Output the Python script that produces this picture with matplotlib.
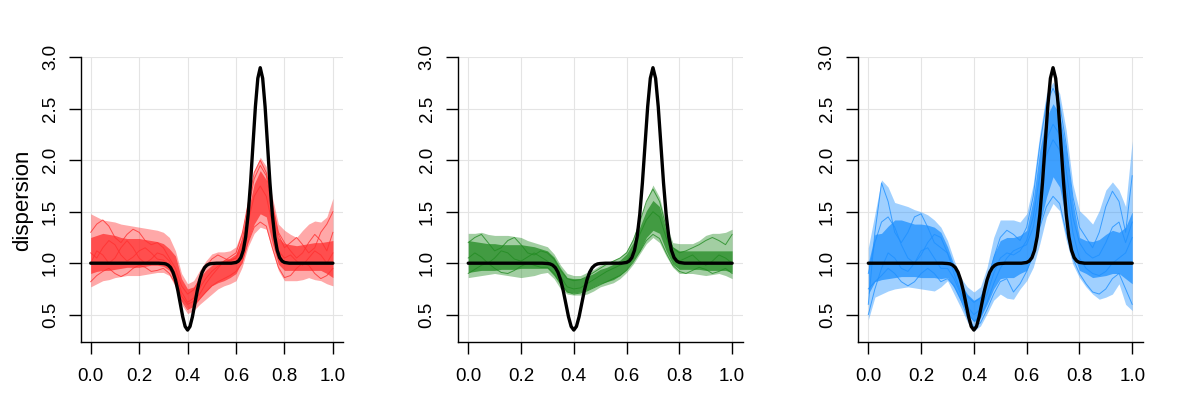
import matplotlib
matplotlib.use("Agg")
import matplotlib.pyplot as plt

plt.rcParams['font.family'] = ['Liberation Sans', 'DejaVu Sans']

# true dispersion curve (black)
true_x = [0.00, 0.28, 0.30, 0.31, 0.32, 0.33, 0.34, 0.35, 0.36, 0.37, 0.38, 0.39, 0.40,
          0.41, 0.42, 0.43, 0.44, 0.45, 0.46, 0.47, 0.48, 0.49, 0.50, 0.52, 0.58,
          0.60, 0.61, 0.62, 0.63, 0.64, 0.65, 0.66, 0.67, 0.68, 0.69, 0.70,
          0.71, 0.72, 0.73, 0.74, 0.75, 0.76, 0.77, 0.78, 0.79, 0.80, 0.82, 1.00]
true_y = [1.0, 1.0, 0.997, 0.993, 0.981, 0.957, 0.912, 0.838, 0.733, 0.606, 0.479, 0.385, 0.35,
          0.385, 0.479, 0.606, 0.733, 0.838, 0.912, 0.957, 0.981, 0.993, 0.997, 1.0, 1.0,
          1.007, 1.021, 1.054, 1.125, 1.257, 1.473, 1.781, 2.153, 2.522, 2.797, 2.9,
          2.797, 2.522, 2.153, 1.781, 1.473, 1.257, 1.125, 1.054, 1.021, 1.007, 1.0, 1.0]

# common grid for the estimated curves
grid_x = [0.000, 0.025, 0.050, 0.075, 0.100, 0.125, 0.150, 0.175, 0.200, 0.225,
          0.250, 0.275, 0.300, 0.325, 0.350, 0.375, 0.400, 0.425, 0.450, 0.475,
          0.500, 0.525, 0.550, 0.575, 0.600, 0.625, 0.650, 0.675, 0.700, 0.725,
          0.750, 0.775, 0.800, 0.825, 0.850, 0.875, 0.900, 0.925, 0.950, 0.975, 1.000]

# panel 1 (red): outer envelope, central band, a few single curves
red_hi = [1.48, 1.45, 1.42, 1.41, 1.40, 1.38, 1.37, 1.36, 1.35, 1.34,
          1.33, 1.32, 1.30, 1.25, 1.12, 0.90, 0.80, 0.83, 0.93, 1.02,
          1.09, 1.11, 1.11, 1.12, 1.16, 1.32, 1.61, 1.90, 2.03, 1.94,
          1.64, 1.38, 1.32, 1.28, 1.25, 1.32, 1.38, 1.41, 1.40, 1.45, 1.63]
red_chi = [1.25, 1.27, 1.29, 1.28, 1.27, 1.25, 1.24, 1.24, 1.24, 1.23,
           1.22, 1.21, 1.19, 1.14, 1.07, 0.85, 0.75, 0.77, 0.86, 0.93,
           0.98, 1.01, 1.03, 1.05, 1.09, 1.24, 1.51, 1.77, 1.90, 1.81,
           1.55, 1.25, 1.19, 1.18, 1.17, 1.18, 1.19, 1.20, 1.20, 1.21, 1.22]
red_clo = [0.90, 0.92, 0.93, 0.93, 0.94, 0.95, 0.96, 0.96, 0.96, 0.97,
           0.98, 0.98, 0.97, 0.93, 0.81, 0.64, 0.56, 0.59, 0.66, 0.72,
           0.78, 0.81, 0.83, 0.86, 0.90, 1.02, 1.22, 1.38, 1.48, 1.45,
           1.19, 0.99, 0.93, 0.93, 0.93, 0.93, 0.93, 0.93, 0.93, 0.90, 0.86]
red_lo = [0.77, 0.80, 0.83, 0.84, 0.86, 0.87, 0.88, 0.88, 0.88, 0.89,
          0.90, 0.91, 0.91, 0.88, 0.77, 0.60, 0.51, 0.54, 0.60, 0.65,
          0.70, 0.75, 0.78, 0.80, 0.83, 0.96, 1.16, 1.29, 1.35, 1.33,
          1.12, 0.93, 0.83, 0.83, 0.83, 0.84, 0.86, 0.84, 0.83, 0.80, 0.78]
red_curves = [
    [1.30, 1.38, 1.42, 1.36, 1.25, 1.20, 1.28, 1.33, 1.30, 1.22,
     1.18, 1.20, 1.15, 1.05, 0.95, 0.78, 0.70, 0.74, 0.85, 0.96,
     1.04, 1.08, 1.05, 1.02, 1.05, 1.22, 1.52, 1.82, 1.95, 1.85,
     1.55, 1.28, 1.15, 1.20, 1.25, 1.18, 1.10, 1.15, 1.30, 1.38, 1.50],
    [0.82, 0.88, 0.92, 0.95, 0.90, 0.87, 0.90, 0.95, 0.98, 0.96,
     0.92, 0.93, 0.95, 0.90, 0.80, 0.64, 0.55, 0.58, 0.65, 0.72,
     0.78, 0.82, 0.85, 0.88, 0.92, 1.00, 1.20, 1.35, 1.40, 1.36,
     1.15, 0.96, 0.86, 0.88, 0.95, 1.00, 0.98, 0.90, 0.85, 0.88, 0.95],
    [1.10, 1.05, 1.15, 1.22, 1.18, 1.08, 1.02, 1.06, 1.12, 1.15,
     1.10, 1.04, 1.03, 0.98, 0.90, 0.72, 0.62, 0.66, 0.76, 0.85,
     0.92, 0.97, 1.00, 1.03, 1.05, 1.15, 1.40, 1.65, 1.75, 1.65,
     1.38, 1.12, 1.05, 1.08, 1.02, 0.98, 1.05, 1.12, 1.08, 1.00, 1.10],
    [1.00, 1.12, 1.08, 1.00, 1.05, 1.15, 1.22, 1.15, 1.05, 1.00,
     1.04, 1.10, 1.08, 1.02, 0.88, 0.68, 0.60, 0.63, 0.70, 0.80,
     0.88, 0.95, 1.02, 1.06, 1.10, 1.28, 1.58, 1.88, 2.00, 1.88,
     1.58, 1.30, 1.20, 1.12, 1.05, 1.10, 1.20, 1.28, 1.22, 1.12, 1.30],
]

# panel 2 (green)
green_hi = [1.29, 1.29, 1.30, 1.28, 1.27, 1.27, 1.27, 1.26, 1.25, 1.22,
            1.20, 1.18, 1.16, 1.09, 0.98, 0.90, 0.88, 0.88, 0.91, 0.94,
            0.98, 1.00, 1.03, 1.06, 1.12, 1.25, 1.42, 1.61, 1.76, 1.64,
            1.38, 1.20, 1.19, 1.19, 1.19, 1.22, 1.27, 1.29, 1.29, 1.30, 1.33]
green_chi = [1.22, 1.21, 1.20, 1.19, 1.19, 1.18, 1.18, 1.18, 1.18, 1.17,
             1.16, 1.14, 1.12, 1.06, 0.95, 0.86, 0.85, 0.85, 0.87, 0.90,
             0.94, 0.96, 0.99, 1.03, 1.09, 1.20, 1.35, 1.51, 1.61, 1.55,
             1.32, 1.16, 1.12, 1.12, 1.12, 1.12, 1.12, 1.12, 1.12, 1.12, 1.12]
green_clo = [0.91, 0.92, 0.93, 0.93, 0.93, 0.94, 0.94, 0.94, 0.95, 0.95,
             0.95, 0.95, 0.95, 0.88, 0.79, 0.72, 0.71, 0.72, 0.74, 0.77,
             0.80, 0.82, 0.84, 0.88, 0.94, 1.03, 1.12, 1.25, 1.32, 1.29,
             1.12, 0.99, 0.94, 0.94, 0.94, 0.94, 0.93, 0.93, 0.93, 0.93, 0.91]
green_lo = [0.86, 0.87, 0.88, 0.89, 0.90, 0.89, 0.88, 0.87, 0.86, 0.87,
            0.88, 0.90, 0.91, 0.85, 0.75, 0.70, 0.69, 0.69, 0.70, 0.73,
            0.77, 0.79, 0.81, 0.85, 0.91, 0.99, 1.09, 1.19, 1.25, 1.20,
            1.07, 0.96, 0.90, 0.90, 0.90, 0.89, 0.88, 0.89, 0.90, 0.88, 0.85]
green_curves = [
    [1.20, 1.25, 1.28, 1.20, 1.12, 1.15, 1.22, 1.25, 1.18, 1.10,
     1.08, 1.12, 1.10, 1.04, 0.93, 0.85, 0.83, 0.84, 0.87, 0.91,
     0.95, 0.99, 1.02, 1.05, 1.10, 1.22, 1.40, 1.60, 1.72, 1.60,
     1.35, 1.15, 1.10, 1.12, 1.15, 1.18, 1.22, 1.25, 1.22, 1.18, 1.28],
    [0.90, 0.94, 0.98, 1.00, 0.95, 0.91, 0.90, 0.93, 0.97, 1.00,
     0.98, 0.96, 0.96, 0.90, 0.80, 0.72, 0.70, 0.71, 0.73, 0.76,
     0.79, 0.82, 0.85, 0.88, 0.93, 1.01, 1.11, 1.22, 1.28, 1.24,
     1.10, 0.98, 0.92, 0.90, 0.93, 0.96, 0.94, 0.90, 0.92, 0.95, 0.90],
    [1.05, 1.10, 1.06, 1.00, 1.05, 1.12, 1.10, 1.04, 1.02, 1.06,
     1.10, 1.06, 1.02, 0.97, 0.87, 0.77, 0.75, 0.76, 0.80, 0.84,
     0.88, 0.92, 0.95, 0.98, 1.02, 1.12, 1.28, 1.42, 1.50, 1.45,
     1.25, 1.08, 1.02, 1.05, 1.08, 1.02, 0.98, 1.02, 1.08, 1.05, 1.00],
]

# panel 3 (blue)
blue_hi = [1.15, 1.48, 1.81, 1.74, 1.59, 1.57, 1.55, 1.52, 1.50, 1.47,
           1.42, 1.35, 1.22, 1.03, 0.86, 0.77, 0.72, 0.77, 0.96, 1.25,
           1.42, 1.42, 1.42, 1.40, 1.48, 1.77, 2.26, 2.65, 2.76, 2.65,
           2.29, 1.77, 1.51, 1.45, 1.38, 1.51, 1.71, 1.79, 1.71, 1.55, 2.19]
blue_chi = [1.00, 1.28, 1.29, 1.36, 1.42, 1.42, 1.40, 1.38, 1.38, 1.37,
            1.35, 1.30, 1.16, 0.98, 0.81, 0.70, 0.64, 0.68, 0.86, 1.08,
            1.22, 1.25, 1.25, 1.27, 1.32, 1.62, 2.10, 2.42, 2.55, 2.45,
            2.10, 1.60, 1.25, 1.22, 1.21, 1.23, 1.28, 1.32, 1.30, 1.35, 1.50]
blue_clo = [0.70, 0.82, 0.84, 0.85, 0.86, 0.87, 0.87, 0.87, 0.86, 0.86,
            0.86, 0.85, 0.86, 0.76, 0.63, 0.51, 0.43, 0.47, 0.60, 0.75,
            0.85, 0.86, 0.86, 0.90, 0.93, 1.08, 1.38, 1.64, 1.84, 1.74,
            1.42, 1.10, 0.93, 0.90, 0.86, 0.87, 0.88, 0.90, 0.90, 0.85, 0.80]
blue_lo = [0.45, 0.67, 0.70, 0.73, 0.75, 0.76, 0.77, 0.76, 0.75, 0.74,
           0.73, 0.77, 0.83, 0.70, 0.57, 0.43, 0.34, 0.39, 0.51, 0.64,
           0.70, 0.66, 0.65, 0.75, 0.83, 0.96, 1.19, 1.45, 1.58, 1.51,
           1.22, 0.99, 0.86, 0.77, 0.70, 0.65, 0.67, 0.70, 0.80, 0.60, 0.54]
blue_curves = [
    [0.60, 1.30, 1.78, 1.60, 1.30, 1.20, 1.30, 1.45, 1.48, 1.35,
     1.20, 1.15, 1.10, 0.95, 0.80, 0.68, 0.62, 0.66, 0.82, 1.05,
     1.25, 1.32, 1.28, 1.22, 1.35, 1.65, 2.15, 2.55, 2.70, 2.55,
     2.15, 1.65, 1.35, 1.25, 1.15, 1.30, 1.55, 1.70, 1.60, 1.30, 1.85],
    [0.75, 0.82, 0.88, 0.95, 0.90, 0.82, 0.78, 0.82, 0.90, 0.95,
     0.90, 0.82, 0.85, 0.78, 0.65, 0.48, 0.38, 0.42, 0.55, 0.70,
     0.82, 0.85, 0.72, 0.80, 0.92, 1.08, 1.35, 1.55, 1.65, 1.58,
     1.30, 1.05, 0.90, 0.80, 0.72, 0.70, 0.75, 0.85, 0.90, 0.75, 0.60],
    [0.90, 1.20, 1.40, 1.45, 1.35, 1.18, 1.05, 1.00, 1.08, 1.20,
     1.28, 1.25, 1.10, 0.90, 0.72, 0.58, 0.50, 0.55, 0.70, 0.90,
     1.05, 1.10, 1.08, 1.12, 1.22, 1.45, 1.85, 2.20, 2.35, 2.25,
     1.90, 1.45, 1.20, 1.10, 1.05, 1.08, 1.20, 1.35, 1.40, 1.20, 1.40],
    [0.50, 0.75, 0.95, 1.10, 1.05, 0.95, 0.92, 1.00, 1.12, 1.15,
     1.05, 0.95, 0.95, 0.85, 0.70, 0.52, 0.44, 0.48, 0.62, 0.80,
     0.95, 1.05, 1.12, 1.15, 1.18, 1.35, 1.70, 2.05, 2.20, 2.10,
     1.75, 1.30, 1.05, 0.95, 0.90, 0.88, 0.92, 1.00, 1.05, 1.10, 1.25],
]

panels = [
    ('#FF3030', red_hi, red_chi, red_clo, red_lo, red_curves),
    ('#228B22', green_hi, green_chi, green_clo, green_lo, green_curves),
    ('#1E90FF', blue_hi, blue_chi, blue_clo, blue_lo, blue_curves),
]

x_ticks = [0.0, 0.2, 0.4, 0.6, 0.8, 1.0]
y_ticks = [0.5, 1.0, 1.5, 2.0, 2.5, 3.0]

# axes boxes in figure fraction (left, bottom, width, height)
boxes = [
    (0.0675, 0.146, 0.218, 0.711),
    (0.3814, 0.146, 0.2375, 0.711),
    (0.7148, 0.146, 0.2375, 0.711),
]

fig = plt.figure(figsize=(12, 4), dpi=100)

for box, (col, hi, chi, clo, lo, curves) in zip(boxes, panels):
    ax = fig.add_axes(box)
    ax.set_xlim(-0.04, 1.04)
    ax.set_ylim(0.238, 3.002)
    ax.set_xticks(x_ticks)
    ax.set_yticks(y_ticks)
    ax.set_xticklabels([f"{v:.1f}" for v in x_ticks])
    ax.set_yticklabels([f"{v:.1f}" for v in y_ticks])
    ax.grid(True, color='#e4e4e4', linewidth=0.8)
    ax.set_axisbelow(True)

    # spread of the estimates: light outer envelope, denser central band
    ax.fill_between(grid_x, lo, hi, color=col, alpha=0.42, linewidth=0)
    ax.fill_between(grid_x, clo, chi, color=col, alpha=0.75, linewidth=0)
    for c in curves:
        ax.plot(grid_x, c, color=col, alpha=0.8, linewidth=0.7)
    ax.plot(true_x, true_y, color='black', linewidth=2.4, solid_capstyle='round')

    for s in ['top', 'right']:
        ax.spines[s].set_visible(False)
    for s in ['left', 'bottom']:
        ax.spines[s].set_linewidth(1.0)
    ax.tick_params(axis='both', direction='out', length=8.8, width=1.0, labelsize=13.5)
    ax.tick_params(axis='x', pad=10)
    ax.tick_params(axis='y', pad=7, labelrotation=90)
    for lbl in ax.get_yticklabels():
        lbl.set_va('center')

fig.text(0.019, 0.5, 'dispersion', rotation=90, ha='center', va='center', fontsize=16)

fig.savefig('out.png', dpi=100)
